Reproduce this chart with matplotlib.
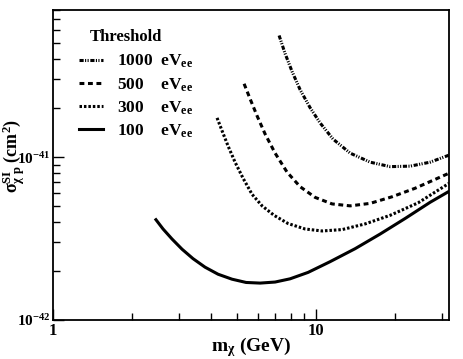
import matplotlib
matplotlib.use("Agg")
import matplotlib.pyplot as plt
from matplotlib.lines import Line2D
from matplotlib.ticker import LogLocator, NullFormatter

plt.rcParams['font.family'] = ['Liberation Serif', 'DejaVu Serif']
plt.rcParams['font.weight'] = 'bold'
plt.rcParams['mathtext.fontset'] = 'custom'
plt.rcParams['mathtext.rm'] = 'Liberation Serif:bold'
plt.rcParams['mathtext.bf'] = 'Liberation Serif:bold'
plt.rcParams['mathtext.it'] = 'Liberation Serif:bold:italic'
plt.rcParams['mathtext.default'] = 'rm'
plt.rcParams['lines.scale_dashes'] = False

# ---- data ----
thresholds = ["1000", "500", "300", "100"]

m1000 = [7.234, 7.625, 8.105, 8.697, 9.489, 10.36, 11.60, 13.47, 16.05, 19.11, 22.78, 27.13, 32.04]
s1000 = [5.58e-41, 4.32e-41, 3.35e-41, 2.59e-41, 2.01e-41, 1.62e-41, 1.29e-41,
         1.058e-41, 9.31e-42, 8.74e-42, 8.80e-42, 9.31e-42, 1.029e-41]

m500 = [5.325, 5.611, 5.967, 6.399, 6.985, 7.758, 8.697, 9.913, 11.50, 13.47, 16.05, 19.45, 23.79, 32.04]
s500 = [2.82e-41, 2.28e-41, 1.79e-41, 1.387e-41, 1.058e-41, 8.08e-42, 6.58e-42,
        5.66e-42, 5.16e-42, 5.02e-42, 5.20e-42, 5.71e-42, 6.44e-42, 7.97e-42]

m300 = [4.203, 4.394, 4.629, 4.920, 5.277, 5.710, 6.233, 6.923, 7.825, 9.082, 10.54,
        12.56, 15.36, 19.11, 24.42, 32.04]
s300 = [1.741e-41, 1.447e-41, 1.169e-41, 9.31e-42, 7.42e-42, 5.91e-42, 5.02e-42,
        4.39e-42, 3.91e-42, 3.62e-42, 3.52e-42, 3.59e-42, 3.89e-42, 4.39e-42,
        5.24e-42, 6.91e-42]

m100 = [2.442, 2.620, 2.835, 3.094, 3.406, 3.784, 4.240, 4.793, 5.419, 6.125, 6.985,
        7.964, 9.324, 11.30, 14.07, 17.51, 21.80, 27.13, 32.04]
s100 = [4.20e-42, 3.62e-42, 3.14e-42, 2.72e-42, 2.38e-42, 2.11e-42, 1.91e-42, 1.78e-42,
        1.70e-42, 1.685e-42, 1.71e-42, 1.79e-42, 1.96e-42, 2.28e-42, 2.74e-42,
        3.37e-42, 4.20e-42, 5.28e-42, 6.17e-42]

xticks = [1, 10]
xticklabels = ["1", "10"]
yticks = [1e-42, 1e-41]
yticklabels = [r"$\mathbf{10^{-42}}$", r"$\mathbf{10^{-41}}$"]

# ---- figure ----
fig = plt.figure(figsize=(4.63, 3.59), dpi=100)
ax = fig.add_axes([53/463, 1-320/359, (449-53)/463, (320-10)/359])

lw = 2.2
styles = {
    "1000": (0, (3.0, 1.0, 0.8, 1.0, 0.8, 1.2)),
    "500": (0, (3.5, 2.6)),
    "300": (0, (1.8, 1.4)),
    "100": "-",
}
series = {"1000": (m1000, s1000), "500": (m500, s500),
          "300": (m300, s300), "100": (m100, s100)}

handles = []
for t in thresholds:
    mx, sy = series[t]
    ax.plot(mx, sy, color="black", lw=lw, linestyle=styles[t],
            solid_capstyle="butt", solid_joinstyle="round")
    handles.append(Line2D([], [], color="black", lw=lw, linestyle=styles[t]))

ax.set_xscale("log")
ax.set_yscale("log")
ax.set_xlim(1, 32)
ax.set_ylim(1e-42, 8e-41)

ax.set_xticks(xticks)
ax.set_xticklabels(xticklabels)
ax.set_yticks(yticks)
ax.set_yticklabels(yticklabels)
ax.xaxis.set_minor_locator(LogLocator(base=10, subs=range(2, 10)))
ax.yaxis.set_minor_locator(LogLocator(base=10, subs=range(2, 10)))
ax.xaxis.set_minor_formatter(NullFormatter())
ax.yaxis.set_minor_formatter(NullFormatter())

ax.tick_params(which="major", direction="in", length=8, width=1.0,
               top=False, right=False)
ax.tick_params(axis="x", which="major", labelsize=12, pad=2.5)
ax.tick_params(axis="y", which="major", labelsize=11, pad=1.5)
ax.tick_params(which="minor", direction="in", length=5, width=1.0,
               top=False, right=False)
for sp in ax.spines.values():
    sp.set_linewidth(1.3)

ax.set_xlabel(r"m$_{\chi}$ (GeV)", fontsize=14, fontweight="bold")
ax.xaxis.set_label_coords(0.5, -0.05)
ax.set_ylabel(r"$\sigma^{SI}_{\chi\ p}$ (cm$^{\mathbf{2}}$)", fontsize=13,
              fontweight="bold")
ax.yaxis.set_label_coords(-0.063, 0.53)

ax.text(0.093, 0.913, "Threshold", transform=ax.transAxes, fontsize=12,
        fontweight="bold", ha="left", va="center")

labels = [f"{t}" + ("  " if len(t) == 4 else "    ") + r"eV$_{\mathbf{ee}}$" for t in thresholds]
leg = ax.legend(handles, labels, loc="upper left",
                frameon=False, fontsize=12.5,
                handlelength=1.35, handletextpad=0.85, labelspacing=0.33,
                borderpad=0, borderaxespad=0, bbox_to_anchor=(0.066, 0.861))
for txt in leg.get_texts():
    txt.set_fontweight("bold")

fig.savefig("out.png", dpi=100)
